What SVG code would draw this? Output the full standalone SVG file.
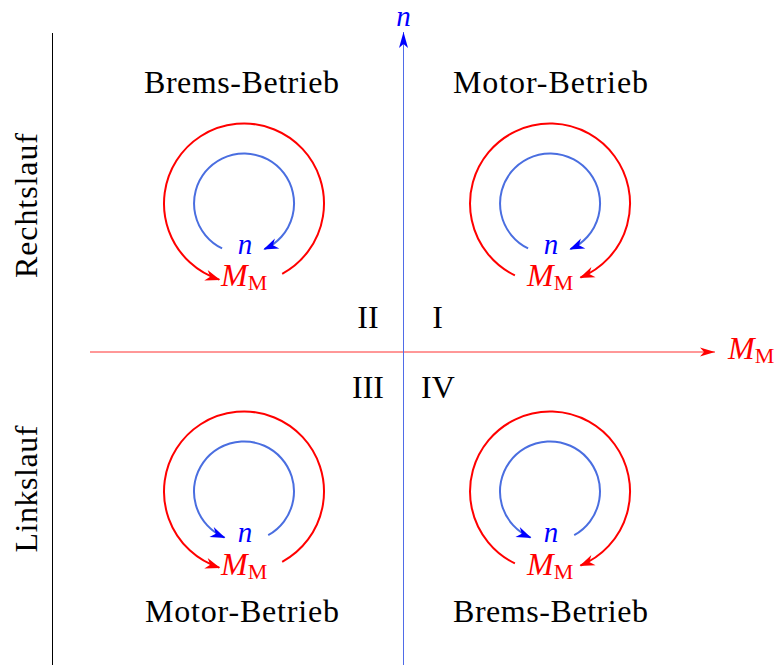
<svg xmlns="http://www.w3.org/2000/svg" width="778" height="666" viewBox="0 0 778 666">
<style>
  .t { font-family: "Liberation Serif", "Times New Roman", serif; font-size: 32px; fill: #000; }
  .mi { font-family: "Liberation Serif", "Times New Roman", serif; font-size: 32px; font-style: italic; }
  .sm { font-size: 29px; }
  .sub { font-style: normal; font-size: 22px; }
  .red { fill: #ff0000; }
  .blue { fill: #0000ff; }
  .ra { fill: none; stroke: #ff0000; stroke-width: 2; marker-end: url(#ahRed); }
  .ba { fill: none; stroke: #4a6ee0; stroke-width: 2; marker-end: url(#ahBlue); }
</style>
<defs>
  <marker id="ahRed" markerUnits="userSpaceOnUse" orient="auto" refX="-1" refY="0" markerWidth="20" markerHeight="20" viewBox="-16 -8 20 16" overflow="visible">
    <path d="M0,0 L-15,-5.5 L-10.5,0 L-15,5.5 Z" fill="#ff0000"/>
  </marker>
  <marker id="ahBlue" markerUnits="userSpaceOnUse" orient="auto" refX="-1" refY="0" markerWidth="20" markerHeight="20" viewBox="-16 -8 20 16" overflow="visible">
    <path d="M0,0 L-15,-5.5 L-10.5,0 L-15,5.5 Z" fill="#0000ff"/>
  </marker>
  <marker id="axRed" markerUnits="userSpaceOnUse" orient="auto" refX="0" refY="0" markerWidth="20" markerHeight="20" viewBox="-16 -8 20 16" overflow="visible">
    <path d="M0,0 L-15,-4.5 L-11,0 L-15,4.5 Z" fill="#ff0000"/>
  </marker>
  <marker id="axBlue" markerUnits="userSpaceOnUse" orient="auto" refX="0" refY="0" markerWidth="20" markerHeight="20" viewBox="-16 -8 20 16" overflow="visible">
    <path d="M0,0 L-16,-4.5 L-12,0 L-16,4.5 Z" fill="#0000ff"/>
  </marker>
</defs>
<rect width="778" height="666" fill="#ffffff"/>

<g id="axes">
  <line x1="52.5" y1="33" x2="52.5" y2="665" stroke="#000" stroke-width="1"/>
  <line x1="90" y1="352" x2="715" y2="352" stroke="#ff3030" stroke-width="1" marker-end="url(#axRed)"/>
  <line x1="403.5" y1="665" x2="403.5" y2="32" stroke="#4f6ce8" stroke-width="1" marker-end="url(#axBlue)"/>
  <text class="mi sm blue" x="403.5" y="26" text-anchor="middle">n</text>
  <text class="mi red" x="728" y="359">M<tspan class="sub" dy="4">M</tspan></text>
</g>

<g id="side-labels">
  <text class="t" transform="translate(37,205.5) rotate(-90)" text-anchor="middle" textLength="145" lengthAdjust="spacing">Rechtslauf</text>
  <text class="t" transform="translate(37,489) rotate(-90)" text-anchor="middle" textLength="127" lengthAdjust="spacing">Linkslauf</text>
</g>

<g id="quadrant-numbers">
  <text class="t" x="368" y="328" text-anchor="middle">II</text>
  <text class="t" x="437.5" y="328" text-anchor="middle">I</text>
  <text class="t" x="368" y="397.5" text-anchor="middle">III</text>
  <text class="t" x="438" y="397.5" text-anchor="middle">IV</text>
</g>

<g id="q2">
  <text class="t" x="241.5" y="93" text-anchor="middle" textLength="195" lengthAdjust="spacing">Brems-Betrieb</text>
  <path class="ra" d="M282.2,273.8 A80,80 0 1 0 219.3,279.6"/>
  <path class="ba" d="M222.1,248.4 A50,50 0 1 1 264.3,249.2"/>
  <text class="mi sm blue" x="245" y="254" text-anchor="middle">n</text>
  <text class="mi red" x="221" y="286">M<tspan class="sub" dy="4">M</tspan></text>
</g>

<g id="q1">
  <text class="t" x="550.5" y="93" text-anchor="middle" textLength="195" lengthAdjust="spacing">Motor-Betrieb</text>
  <path class="ra" d="M514.9,275.4 A80,80 0 1 1 580.5,277.5"/>
  <path class="ba" d="M528.1,248.4 A50,50 0 1 1 570.3,249.2"/>
  <text class="mi sm blue" x="551" y="254" text-anchor="middle">n</text>
  <text class="mi red" x="527" y="286">M<tspan class="sub" dy="4">M</tspan></text>
</g>

<g id="q3">
  <text class="t" x="242" y="622" text-anchor="middle" textLength="194" lengthAdjust="spacing">Motor-Betrieb</text>
  <path class="ra" d="M282.2,561.8 A80,80 0 1 0 219.3,567.6"/>
  <path class="ba" d="M268.2,535.2 A50,50 0 1 0 224.5,537.5"/>
  <text class="mi sm blue" x="245" y="542" text-anchor="middle">n</text>
  <text class="mi red" x="221" y="575">M<tspan class="sub" dy="4">M</tspan></text>
</g>

<g id="q4">
  <text class="t" x="550.5" y="622" text-anchor="middle" textLength="195" lengthAdjust="spacing">Brems-Betrieb</text>
  <path class="ra" d="M514.9,563.4 A80,80 0 1 1 580.5,565.5"/>
  <path class="ba" d="M574.2,535.2 A50,50 0 1 0 530.5,537.5"/>
  <text class="mi sm blue" x="551" y="542" text-anchor="middle">n</text>
  <text class="mi red" x="527" y="575">M<tspan class="sub" dy="4">M</tspan></text>
</g>
</svg>
